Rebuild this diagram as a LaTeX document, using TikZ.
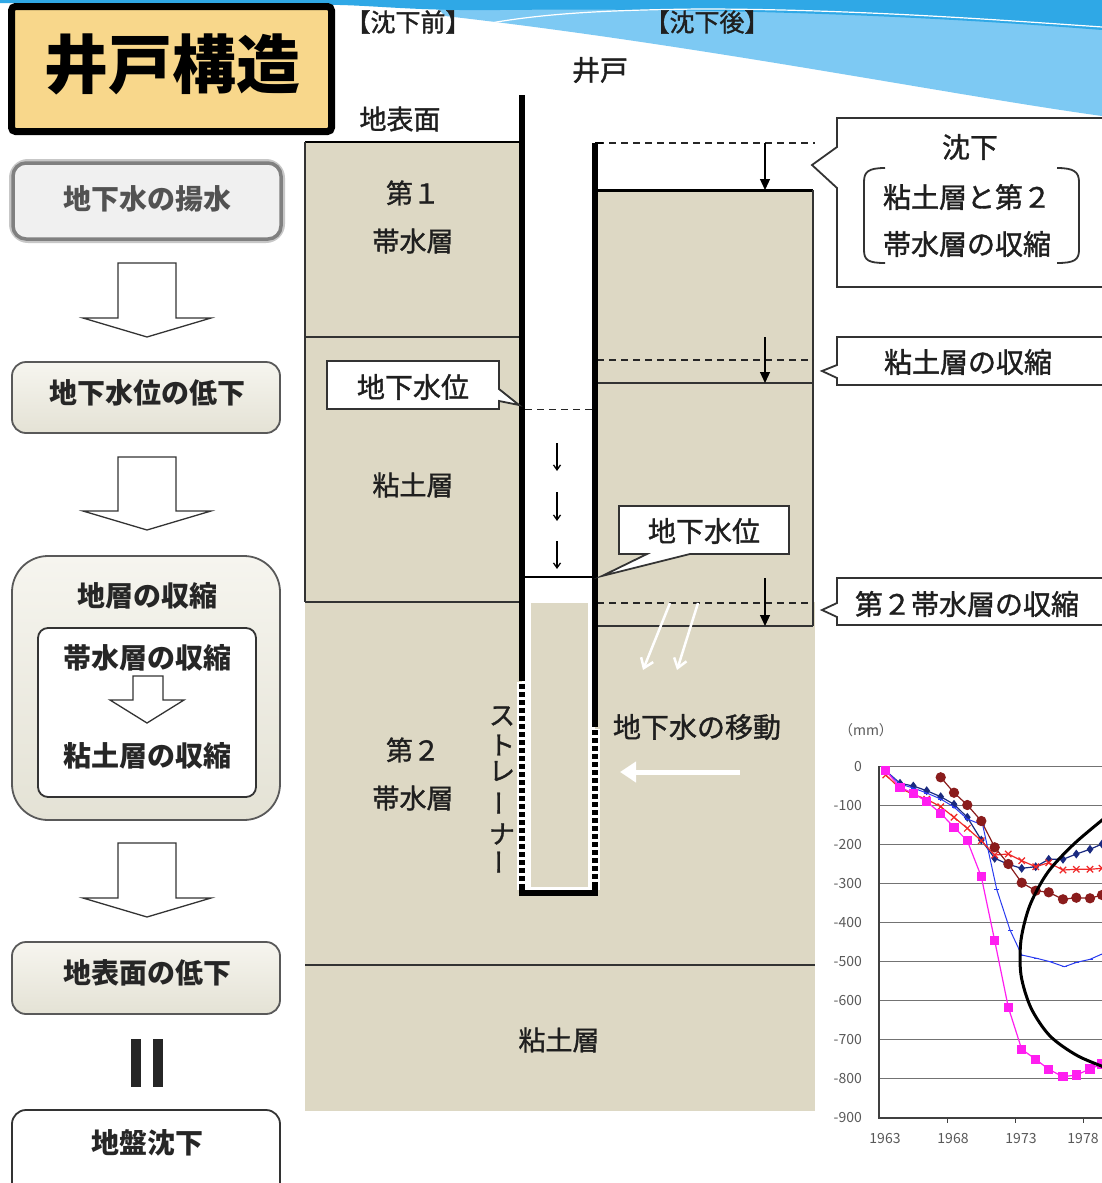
\documentclass[tikz,border=0pt]{standalone}
\usepackage{fontspec}
\setmainfont{Noto Sans CJK JP}
\newfontfamily\jpmid{Noto Sans CJK JP}[FakeBold=1.3]
\usetikzlibrary{arrows.meta,plotmarks,calc}

\definecolor{soil}{HTML}{DDD8C4}
\definecolor{titlefill}{HTML}{F8D78B}
\definecolor{skydark}{HTML}{2FA8E6}
\definecolor{skylight}{HTML}{7DC9F3}
\definecolor{boxtop}{HTML}{F6F5EF}
\definecolor{boxbot}{HTML}{E4E2D5}
\definecolor{navyline}{HTML}{1A2A80}
\definecolor{blueline}{HTML}{2A3CF0}
\definecolor{redline}{HTML}{F02828}
\definecolor{brownline}{HTML}{8A1C1C}
\definecolor{pinkline}{HTML}{FF1EF0}

\newcommand\setfs[1]{\fontsize{#1pt}{#1pt}\selectfont}

\tikzset{
  lbl/.style={inner sep=0pt, font=\jpmid\setfs{27}, text=black!88},
  flowtxt/.style={inner sep=0pt, font=\bfseries\setfs{28}, text=black!85},
  flowbox/.style={rounded corners=14pt, draw=black!65, line width=1.8pt, top color=boxtop, bottom color=boxbot},
  hollow/.style={draw=black!80, line width=1.3pt, fill=white, line join=miter},
  layerline/.style={draw=black!80, line width=1.6pt},
  oldlevel/.style={draw=black!85, line width=1.2pt, dash pattern=on 7pt off 5pt},
  sinkarrow/.style={draw=black, line width=1.2pt, -{Triangle[length=11pt,width=10pt]}},
  dropflow/.style={draw=black, line width=1.3pt, -{Straight Barb[length=5pt,width=7pt]}},
  callout/.style={draw=black!80, line width=1.8pt, fill=white, line join=miter},
  wall/.style={line width=6pt, draw=black},
  strainer/.style={line width=6pt, draw=black, dash pattern=on 5pt off 3pt},
  halo/.style={line width=10pt, draw=white},
  flowarrow/.style={draw=white, line width=2.5pt, -{Straight Barb[length=9pt,width=13pt]}},
  axlbl/.style={inner sep=0pt, font=\setfs{14}, text=black!65},
  grid/.style={draw=black!55, line width=1pt},
  series/.style={line width=1.2pt, mark options={solid}},
}

\begin{document}
\begin{tikzpicture}[x=1pt,y=-1pt]
\path[use as bounding box] (0,0) rectangle (1102,1183);
\clip (0,0) rectangle (1102,1183);
\fill[white] (0,0) rectangle (1102,1183);

% sky band along the top
\fill[skylight] (430,0) -- (1102,0) -- (1102,116) .. controls (950,95) and (700,45) .. (445,16) -- cycle;
\fill[skydark] (0,0) -- (1102,0) -- (1102,30) .. controls (900,14) and (700,8) .. (500,10) .. controls (420,11) and (380,6) .. (340,5) -- (0,3) -- cycle;
\draw[white, line width=1.2pt] (485,24) .. controls (540,14) and (600,10) .. (700,9) .. controls (850,9) and (1000,20) .. (1102,27);

% title
\draw[line width=7pt, fill=titlefill, rounded corners=4pt] (11.5,6.5) rectangle (331.5,131.5);
\node[inner sep=0pt, font=\bfseries\setfs{64}] (title) at (172,64) {井戸構造};

% ---------------- flow on the left ----------------
\draw[rounded corners=15pt, line width=8pt, black!22] (13,163) rectangle (281,239);
\draw[rounded corners=13pt, line width=3.5pt, draw=black!50, fill=black!6] (13,163) rectangle (281,239);
\node[flowtxt, text=black!68] (f1) at (147,199) {地下水の揚水};

\draw[hollow] (118,263) -- (176,263) -- (176,318) -- (211,318) -- (147,337) -- (83,318) -- (118,318) -- cycle;

\draw[flowbox] (12,362) rectangle (280,433);
\node[flowtxt] (f2) at (147,393) {地下水位の低下};

\draw[hollow] (118,457) -- (176,457) -- (176,511) -- (211,511) -- (147,530) -- (83,511) -- (118,511) -- cycle;

\draw[flowbox, rounded corners=36pt] (12,556) rectangle (280,820);
\node[flowtxt] (f3) at (147,596) {地層の収縮};
\draw[rounded corners=10pt, draw=black!80, line width=1.8pt, fill=white] (38,628) rectangle (256,797);
\node[flowtxt] (f3a) at (147,658) {帯水層の収縮};
\draw[hollow] (133,676) -- (163,676) -- (163,700) -- (184,700) -- (147,723) -- (110,700) -- (133,700) -- cycle;
\node[flowtxt] (f3b) at (147,756) {粘土層の収縮};

\draw[hollow] (118,843) -- (176,843) -- (176,898) -- (211,898) -- (147,917) -- (83,898) -- (118,898) -- cycle;

\draw[flowbox] (12,942) rectangle (280,1014);
\node[flowtxt] (f4) at (147,973) {地表面の低下};

\fill[black!85] (131,1039) rectangle (141,1087);
\fill[black!85] (153,1039) rectangle (163,1087);

\draw[rounded corners=14pt, draw=black!80, line width=1.8pt, fill=white] (12,1110) rectangle (280,1200);
\node[flowtxt] (f5) at (147,1143) {地盤沈下};

% ---------------- ground section ----------------
\node[lbl, font=\jpmid\setfs{25}] (before) at (408,22) {【沈下前】};
\node[lbl, font=\jpmid\setfs{25}] (after) at (707,22) {【沈下後】};
\node[lbl, font=\jpmid\setfs{28}] (well) at (600,70) {井戸};
\node[lbl] (surf) at (400,119) {地表面};

% soil
\fill[soil] (305,142) rectangle (520,602);
\fill[soil] (597,190) rectangle (813,626);
\fill[soil] (305,602) rectangle (815,1111);
\fill[white] (522,95) rectangle (595,896);
\fill[soil] (531,603) rectangle (588,887);

% layer boundaries, before
\draw[line width=2pt] (305,142) -- (522,142);
\draw[layerline, line width=1.2pt] (305,142) -- (305,602);
\draw[layerline] (305,337) -- (522,337);
\draw[layerline] (305,602) -- (522,602);
% layer boundaries, after
\draw[line width=3pt] (597,190) -- (813,190);
\draw[layerline, line width=1.2pt] (813,190) -- (813,626);
\draw[layerline] (597,383) -- (813,383);
\draw[layerline] (597,626) -- (813,626);
\draw[layerline, line width=2pt] (305,965) -- (815,965);

% original positions and settlement arrows
\draw[oldlevel] (597,143) -- (815,143);
\draw[oldlevel] (597,360) -- (813,360);
\draw[oldlevel] (597,603) -- (813,603);
\coordinate (s0a) at (765,143); \coordinate (s0b) at (765,190);
\coordinate (s1a) at (765,337); \coordinate (s1b) at (765,383);
\coordinate (s2a) at (765,578); \coordinate (s2b) at (765,626);
\draw[sinkarrow] (s0a) -- (s0b);
\draw[sinkarrow] (s1a) -- (s1b);
\draw[sinkarrow] (s2a) -- (s2b);

% water levels in the well
\draw[oldlevel, line width=1pt] (525,409) -- (592,409);
\draw[line width=1.3pt] (525,577) -- (592,577);
\foreach \ya/\yb in {443/471, 492/521, 541/569}
  \draw[dropflow] (557,\ya) -- (557,\yb);

% well casing and strainer
\draw[halo] (522,682) -- (522,890);
\draw[halo] (595,729) -- (595,890);
\draw[wall] (522,95) -- (522,681);
\draw[strainer] (522,684) -- (522,887);
\draw[wall] (595,143) -- (595,727);
\draw[strainer] (595,730) -- (595,887);
\draw[line width=6pt] (522,884) -- (522,893) -- (595,893) -- (595,884);
\draw[line width=1.4pt] (595,143) -- (603,143);

% labels in the layers
\node[lbl] (a1a) at (413,193) {第１};
\node[lbl] (a1b) at (413,241) {帯水層};
\node[lbl] (c1) at (413,485) {粘土層};
\node[lbl] (a2a) at (413,750) {第２};
\node[lbl] (a2b) at (413,798) {帯水層};
\node[lbl] (c2) at (559,1040) {粘土層};

% strainer label, set vertically
\foreach \c/\y in {ス/716, ト/745, レ/771, ナ/834}
  \node[lbl, font=\jpmid\setfs{26}] at (502,\y) {\c};
\node[lbl, font=\jpmid\setfs{26}, rotate=90] at (503,803) {ー};
\node[lbl, font=\jpmid\setfs{26}, rotate=90] at (503,862) {ー};

% water level callouts
\draw[callout] (327,361) -- (499,361) -- (499,389) -- (519,405) -- (499,401) -- (499,409) -- (327,409) -- cycle;
\node[lbl, font=\jpmid\setfs{28}] (wl1) at (413,387) {地下水位};
\draw[callout] (619,506) -- (789,506) -- (789,554) -- (690,554) -- (602,576) -- (647,554) -- (619,554) -- cycle;
\node[lbl, font=\jpmid\setfs{28}] (wl2) at (704,531) {地下水位};

% groundwater movement
\coordinate (m1a) at (670,603); \coordinate (m1b) at (643,670);
\coordinate (m2a) at (698,603); \coordinate (m2b) at (677,670);
\draw[flowarrow] (m1a) -- (m1b);
\draw[flowarrow] (m2a) -- (m2b);
\node[lbl, font=\jpmid\setfs{28}] (move) at (697,727) {地下水の移動};
\coordinate (m3a) at (740,772); \coordinate (m3b) at (620,772);
\draw[draw=white, line width=5pt, -{Triangle[length=16pt,width=20pt]}] (m3a) -- (m3b);

% callouts on the right
\draw[callout] (1110,118) -- (837,118) -- (837,147) -- (812,165) -- (837,188) -- (837,287) -- (1110,287);
\node[lbl, font=\jpmid\setfs{28}] (k1) at (970,147) {沈下};
\node[lbl, font=\jpmid\setfs{28}] (k2) at (967,197) {粘土層と第２};
\node[lbl, font=\jpmid\setfs{28}] (k3) at (967,244) {帯水層の収縮};
\draw[line width=1.8pt, black!80] (885,168) .. controls (868,168) and (864,172) .. (864,182) -- (864,250) .. controls (864,260) and (868,263) .. (885,263);
\draw[line width=1.8pt, black!80] (1057,168) .. controls (1074,168) and (1079,172) .. (1079,182) -- (1079,250) .. controls (1079,260) and (1074,263) .. (1057,263);

\draw[callout] (1110,337) -- (837,337) -- (837,365) -- (822,371) -- (837,378) -- (837,385) -- (1110,385);
\node[lbl, font=\jpmid\setfs{28}] (k4) at (968,362) {粘土層の収縮};

\draw[callout] (1110,578) -- (837,578) -- (837,603) -- (822,610) -- (837,617) -- (837,625) -- (1110,625);
\node[lbl, font=\jpmid\setfs{28}] (k5) at (967,604) {第２帯水層の収縮};

% ---------------- settlement chart ----------------
\node[axlbl] (unit) at (866,730) {（mm）};
\foreach \k/\t in {0/0, 1/-100, 2/-200, 3/-300, 4/-400, 5/-500, 6/-600, 7/-700, 8/-800, 9/-900}{
  \node[axlbl, anchor=east] at (862,{766+39.1*\k}) {\t};
}
\foreach \k in {0,...,8}
  \draw[grid] (879,{766+39.1*\k}) -- (1102,{766+39.1*\k});
\draw[black!75, line width=1.3pt] (879,766) -- (879,1118) -- (1102,1118);
\foreach \x in {947,1015,1083}
  \draw[black!75, line width=1pt] (\x,1118) -- (\x,1123);
\foreach \x/\t in {885/1963, 953/1968, 1021/1973, 1083/1978}
  \node[axlbl] at (\x,1138) {\t};

\draw[series, navyline, mark=diamond*, mark size=3.5pt] plot coordinates {(885.7,770.7) (900,783.3) (913.3,786) (926.7,790.7) (940.7,796.7) (954,804.3) (967.3,817.3) (981.3,840) (994.7,858.3) (1008.3,864.3) (1021.7,868.3) (1035.7,866.7) (1048.7,859.3) (1063,859.3) (1076.3,854) (1090,849.3) (1102,844)};
\draw[series, blueline, line width=1pt, mark=-, mark size=2.5pt] plot coordinates {(885.7,770.7) (900,784) (913.3,788) (926.7,793) (940.7,799) (954,807) (967.3,819) (982.7,825) (996.7,889.3) (1010,930) (1021.7,955) (1036.7,958.3) (1050,961.7) (1064.3,966.7) (1076.7,962.3) (1090,959.3) (1102,954)};
\draw[series, redline, mark=x, mark size=4.5pt] plot coordinates {(885.7,775) (900,788.3) (913.3,794.3) (926.7,799.3) (940.7,806.7) (954,817.3) (967.3,828.3) (981.3,840.7) (994.7,855) (1008.3,854) (1021.7,860.7) (1035.7,866.7) (1048.7,862.7) (1063,870) (1076.3,869.3) (1090,869.3) (1102,868.3)};
\draw[series, brownline, mark=*, mark size=4.5pt] plot coordinates {(940.7,777.3) (954,792.7) (967.3,805) (981.3,821) (994.7,847.3) (1008.3,864) (1021.7,882.7) (1035.7,890.7) (1048.7,892.3) (1063,899.3) (1076.3,897.7) (1090,898.3) (1102,895)};
\draw[series, pinkline, mark=square*, mark size=4pt] plot coordinates {(885.7,770.7) (900,787.3) (913.3,793.3) (926.7,801.7) (940.7,813.3) (954,827.3) (967.3,840.7) (981.3,876.7) (994.7,940.7) (1008.3,1007.3) (1021.7,1049.3) (1035.7,1059.3) (1048.7,1069.3) (1063,1076.7) (1076.3,1075) (1090,1069) (1102,1064)};

\draw[line width=3pt] plot[smooth] coordinates {(1112,812) (1075,843) (1048,872) (1030,905) (1021,940) (1021,975) (1031,1008) (1050,1036) (1078,1056) (1112,1070)};
\end{tikzpicture}
\end{document}
